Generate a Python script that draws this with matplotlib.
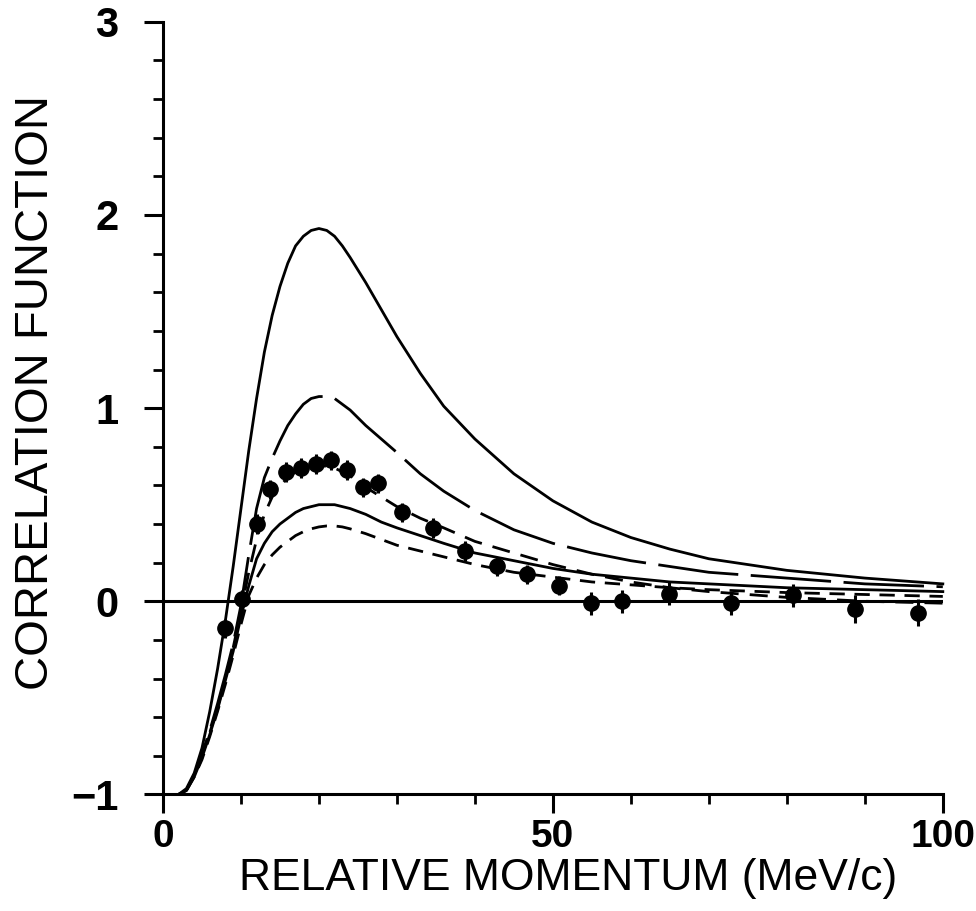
import matplotlib.pyplot as plt

plt.rcParams['font.family'] = ['Liberation Sans', 'DejaVu Sans']
plt.rcParams['lines.scale_dashes'] = False

# momentum grid shared by the model curves (MeV/c)
q = [0, 2, 3, 4, 5, 6, 7, 8, 9, 10, 11, 12, 13, 14, 15, 16, 17, 18, 19, 20,
     21, 22, 23, 24, 26, 28, 30, 33, 36, 40, 45, 50, 55, 60, 65, 70, 80, 90, 100]

# upper solid curve
curve_a = [-1, -1, -0.97, -0.89, -0.76, -0.57, -0.35, -0.10, 0.18, 0.48, 0.78,
           1.05, 1.29, 1.48, 1.63, 1.75, 1.84, 1.89, 1.92, 1.93, 1.92, 1.89,
           1.84, 1.78, 1.65, 1.51, 1.37, 1.18, 1.01, 0.84, 0.66, 0.52, 0.41,
           0.33, 0.27, 0.22, 0.16, 0.12, 0.09]
# long dashed curve
curve_b = [-1, -1, -0.98, -0.90, -0.79, -0.67, -0.53, -0.38, -0.22, -0.02, 0.24,
           0.48, 0.64, 0.74, 0.83, 0.91, 0.97, 1.02, 1.05, 1.06, 1.06, 1.05,
           1.02, 0.99, 0.91, 0.84, 0.77, 0.66, 0.57, 0.47, 0.37, 0.30, 0.25,
           0.21, 0.18, 0.15, 0.12, 0.09, 0.075]
# short dashed curve through the data
curve_c = [-1, -1, -0.98, -0.90, -0.80, -0.68, -0.55, -0.40, -0.24, -0.05, 0.15,
           0.32, 0.45, 0.54, 0.60, 0.64, 0.67, 0.69, 0.70, 0.70, 0.70, 0.69,
           0.67, 0.65, 0.59, 0.54, 0.49, 0.43, 0.38, 0.31, 0.25, 0.19, 0.14,
           0.10, 0.07, 0.05, 0.02, 0.0, -0.01]
# lower solid curve
curve_d = [-1, -1, -0.98, -0.91, -0.81, -0.69, -0.56, -0.41, -0.26, -0.08, 0.08,
           0.22, 0.30, 0.36, 0.40, 0.43, 0.46, 0.48, 0.49, 0.50, 0.50, 0.50,
           0.49, 0.48, 0.45, 0.41, 0.38, 0.34, 0.30, 0.25, 0.21, 0.17, 0.14,
           0.12, 0.10, 0.09, 0.07, 0.06, 0.05]
# lowest short dashed curve
curve_e = [-1, -1, -0.98, -0.91, -0.82, -0.70, -0.57, -0.43, -0.28, -0.12, 0.03,
           0.12, 0.19, 0.24, 0.28, 0.31, 0.34, 0.36, 0.375, 0.385, 0.39, 0.39,
           0.385, 0.375, 0.35, 0.32, 0.29, 0.26, 0.23, 0.19, 0.15, 0.125, 0.10,
           0.085, 0.07, 0.06, 0.045, 0.035, 0.025]

# measured points
data_q = [7.9, 10.1, 12.0, 13.7, 15.8, 17.7, 19.6, 21.6, 23.6, 25.6, 27.6, 30.6,
          34.6, 38.7, 42.8, 46.7, 50.8, 54.9, 58.8, 64.9, 72.8, 80.8, 88.8, 96.8]
data_c = [-0.14, 0.01, 0.40, 0.58, 0.67, 0.69, 0.71, 0.73, 0.68, 0.59, 0.61, 0.46,
          0.38, 0.26, 0.18, 0.14, 0.08, -0.01, 0.0, 0.04, -0.01, 0.03, -0.04, -0.06]
data_err = [0.05, 0.05, 0.05, 0.05, 0.05, 0.05, 0.05, 0.05, 0.05, 0.05, 0.05, 0.05,
            0.05, 0.05, 0.05, 0.05, 0.05, 0.06, 0.06, 0.06, 0.06, 0.06, 0.07, 0.07]

fig = plt.figure(figsize=(9.76, 9.11), dpi=100)
ax = fig.add_axes([0.167, 0.128, 0.799, 0.848])

lw = 2.0
ax.axhline(0, color='black', lw=2.2, zorder=1)
ax.plot(q, curve_a, color='black', lw=lw, clip_on=False)
ax.plot(q, curve_b, color='black', lw=lw, dashes=(58, 9), clip_on=False)
ax.plot(q, curve_c, color='black', lw=lw, dashes=(13, 8), clip_on=False)
ax.plot(q, curve_d, color='black', lw=lw, clip_on=False)
ax.plot(q, curve_e, color='black', lw=lw, dashes=(11, 7), clip_on=False)

ax.errorbar(data_q, data_c, yerr=data_err, fmt='o', color='black', ms=11,
            elinewidth=2.2, capsize=0, zorder=5)

ax.set_xlim(0, 100)
ax.set_ylim(-1, 3)
for side in ['top', 'right']:
    ax.spines[side].set_visible(False)
for side in ['left', 'bottom']:
    ax.spines[side].set_linewidth(2.2)

ax.set_xticks([0, 50, 100])
ax.set_xticks(range(0, 101, 10), minor=True)
ax.set_yticks([-1, 0, 1, 2, 3])
ax.set_yticks([-1 + 0.2 * i for i in range(21)], minor=True)
ax.set_xticklabels(['0', '50', '100'], fontsize=28, fontweight='bold')
ax.set_yticklabels(['\u22121', '0', '1', '2', '3'], fontsize=30, fontweight='bold')
ax.tick_params(which='major', direction='out', length=14, width=2.2)
ax.tick_params(which='minor', direction='out', length=7, width=2)
ax.tick_params(axis='y', which='major', pad=18)
ax.tick_params(axis='x', which='major', pad=4)

ax.set_xlabel('RELATIVE MOMENTUM (MeV/c)', fontsize=32)
ax.set_ylabel('CORRELATION FUNCTION', fontsize=34)
ax.xaxis.set_label_coords(0.52, -0.082)
ax.yaxis.set_label_coords(-0.135, 0.52)

fig.savefig('out.png', dpi=100)
